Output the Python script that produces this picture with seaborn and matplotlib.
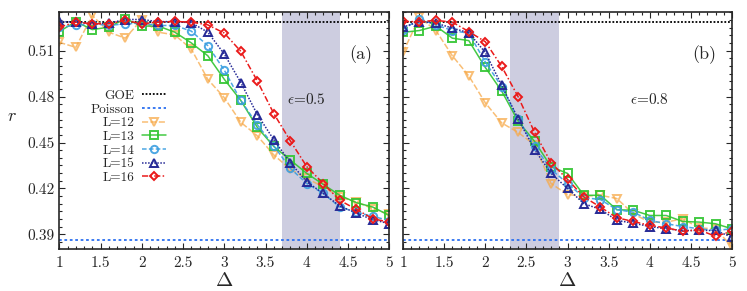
import numpy as np
import matplotlib
matplotlib.use('Agg')
import matplotlib.pyplot as plt
from matplotlib.ticker import MultipleLocator, FormatStrFormatter
import seaborn as sns

# valores
delta = [1.0, 1.2, 1.4, 1.6, 1.8, 2.0, 2.2, 2.4, 2.6, 2.8, 3.0,
         3.2, 3.4, 3.6, 3.8, 4.0, 4.2, 4.4, 4.6, 4.8, 5.0]

goe = 0.529
poisson = 0.3863

# painel (a), eps = 0.5
L12_a = [0.5155, 0.5122, 0.5331, 0.5221, 0.5182, 0.5304, 0.5221, 0.5203, 0.5111, 0.4913, 0.4793,
         0.4632, 0.4544, 0.4419, 0.4325, 0.4265, 0.4210, 0.4144, 0.4111, 0.4068, 0.4030]
L13_a = [0.5225, 0.5290, 0.5238, 0.5254, 0.5309, 0.5261, 0.5261, 0.5221, 0.5151, 0.5067, 0.4913,
         0.4775, 0.4599, 0.4474, 0.4386, 0.4298, 0.4226, 0.4155, 0.4107, 0.4078, 0.4023]
L14_a = [0.5254, 0.5265, 0.5276, 0.5265, 0.5276, 0.5280, 0.5265, 0.5265, 0.5228, 0.5133, 0.4973,
         0.4775, 0.4617, 0.4478, 0.4331, 0.4232, 0.4167, 0.4078, 0.4045, 0.4017, 0.3990]
L15_a = [0.5291, 0.5287, 0.5276, 0.5280, 0.5304, 0.5304, 0.5290, 0.5290, 0.5283, 0.5221, 0.5078,
         0.4892, 0.4683, 0.4518, 0.4368, 0.4243, 0.4167, 0.4085, 0.4039, 0.3995, 0.3970]
L16_a = [0.5254, 0.5287, 0.5276, 0.5276, 0.5298, 0.5276, 0.5287, 0.5291, 0.5287, 0.5269, 0.5215,
         0.5096, 0.4902, 0.4689, 0.4511, 0.4342, 0.4232, 0.4122, 0.4063, 0.4002, 0.3979]

# painel (b), eps = 0.8
L12_b = [0.5089, 0.5318, 0.5232, 0.5067, 0.4935, 0.4760, 0.4628, 0.4566, 0.4485, 0.4232, 0.4160,
         0.4149, 0.4155, 0.4134, 0.4034, 0.3979, 0.3979, 0.4002, 0.3942, 0.3936, 0.3819]
L13_b = [0.5220, 0.5232, 0.5261, 0.5182, 0.5166, 0.4991, 0.4836, 0.4639, 0.4507, 0.4342, 0.4298,
         0.4155, 0.4155, 0.4061, 0.4057, 0.4023, 0.4023, 0.3984, 0.3980, 0.3969, 0.3936]
L14_b = [0.5238, 0.5309, 0.5269, 0.5232, 0.5214, 0.5027, 0.4865, 0.4654, 0.4474, 0.4325, 0.4232,
         0.4140, 0.4127, 0.4061, 0.4045, 0.3991, 0.3969, 0.3951, 0.3936, 0.3925, 0.3936]
L15_b = [0.5254, 0.5290, 0.5280, 0.5248, 0.5217, 0.5089, 0.4874, 0.4654, 0.4453, 0.4298, 0.4200,
         0.4100, 0.4063, 0.3991, 0.3973, 0.3951, 0.3936, 0.3925, 0.3925, 0.3925, 0.3881]
L16_b = [0.5291, 0.5290, 0.5298, 0.5287, 0.5225, 0.5159, 0.4997, 0.4799, 0.4566, 0.4368, 0.4259,
         0.4144, 0.4078, 0.4008, 0.3984, 0.3958, 0.3942, 0.3920, 0.3929, 0.3887, 0.3920]

labels = ['L=12', 'L=13', 'L=14', 'L=15', 'L=16']
panel_a = [L12_a, L13_a, L14_a, L15_a, L16_a]
panel_b = [L12_b, L13_b, L14_b, L15_b, L16_b]
shade_a = (3.7, 4.4)
shade_b = (2.3, 2.9)

# estilo de cada serie
colors = ['#f7a948', '#2fc42f', '#3a9ee0', '#262a96', '#ea1a1a']
markers = ['v', 's', 'o', '^', 'D']
styles = [(0, (4, 1.5)), '-', (0, (3, 1.5)), (0, (1, 1)), (0, (4, 1.5, 1, 1.5))]
alphas = [0.75, 0.9, 0.9, 1.0, 1.0]

sns.set_style('ticks')
plt.rcParams['font.family'] = ['cmr10', 'DejaVu Serif']
plt.rcParams['mathtext.fontset'] = 'cm'
plt.rcParams['axes.formatter.use_mathtext'] = True
plt.rcParams['axes.unicode_minus'] = False

fig = plt.figure(figsize=(7.47, 2.91), dpi=100)
ax_a = fig.add_axes([59.3 / 747, 1 - 249.3 / 291, 330 / 747, 237.6 / 291])
ax_b = fig.add_axes([403 / 747, 1 - 249.3 / 291, 329 / 747, 237.6 / 291])


def draw_panel(ax, series, shade, tag, eps, show_legend):
    ax.axvspan(shade[0], shade[1], color='#cdcde0', zorder=0, lw=0)
    ax.axhline(goe, color='black', ls=(0, (1, 1)), lw=1.3, label='GOE')
    ax.axhline(poisson, color='#2b6ff0', ls=(0, (1.5, 1.5)), lw=1.3, label='Poisson')
    for vals, lab, c, m, s, a in zip(series, labels, colors, markers, styles, alphas):
        ms = 4.3 if m == 'D' else 5.3
        sns.lineplot(x=delta, y=vals, ax=ax, color=c, marker=m, linestyle=s,
                     lw=1.1, markersize=ms, mfc='none', mec=c, mew=1.4,
                     alpha=a, label=lab, legend=False)
    ax.set_xlim(1, 5)
    ax.set_ylim(0.3802, 0.5355)
    ax.xaxis.set_major_locator(MultipleLocator(0.5))
    ax.xaxis.set_minor_locator(MultipleLocator(0.1))
    ax.yaxis.set_major_locator(MultipleLocator(0.03))
    ax.yaxis.set_minor_locator(MultipleLocator(0.005))
    ax.xaxis.set_major_formatter(FormatStrFormatter('%g'))
    ax.yaxis.set_major_formatter(FormatStrFormatter('%.2f'))
    ax.tick_params(which='both', direction='in', top=True, right=True, labelsize=11, width=0.8)
    ax.tick_params(which='major', length=4.5)
    ax.tick_params(which='minor', length=2.5)
    ax.tick_params(axis='x', pad=5)
    for sp in ax.spines.values():
        sp.set_linewidth(1.2)
    ax.set_xlabel(r'$\mathit{\Delta}$', fontsize=15, labelpad=1.5)
    ax.text(0.915, 0.82, tag, transform=ax.transAxes, fontsize=13, ha='center', va='center')
    ax.text(0.75, 0.63, r'$\epsilon$=' + eps, transform=ax.transAxes, fontsize=11,
            ha='center', va='center')
    if show_legend:
        h, l = ax.get_legend_handles_labels()
        ax.legend(h, l, loc='upper right', bbox_to_anchor=(0.345, 0.70), frameon=False,
                  markerfirst=False, fontsize=9.6, borderpad=0, labelspacing=0.1,
                  handlelength=1.8, handletextpad=0.6)


draw_panel(ax_a, panel_a, shade_a, '(a)', '0.5', True)
draw_panel(ax_b, panel_b, shade_b, '(b)', '0.8', False)

ax_a.set_ylabel(r'$r$', fontsize=13, rotation=0, va='center')
ax_a.yaxis.set_label_coords(-0.145, 0.56)
ax_b.set_ylabel('')
ax_b.tick_params(labelleft=False)

fig.savefig('out.png', dpi=100)
